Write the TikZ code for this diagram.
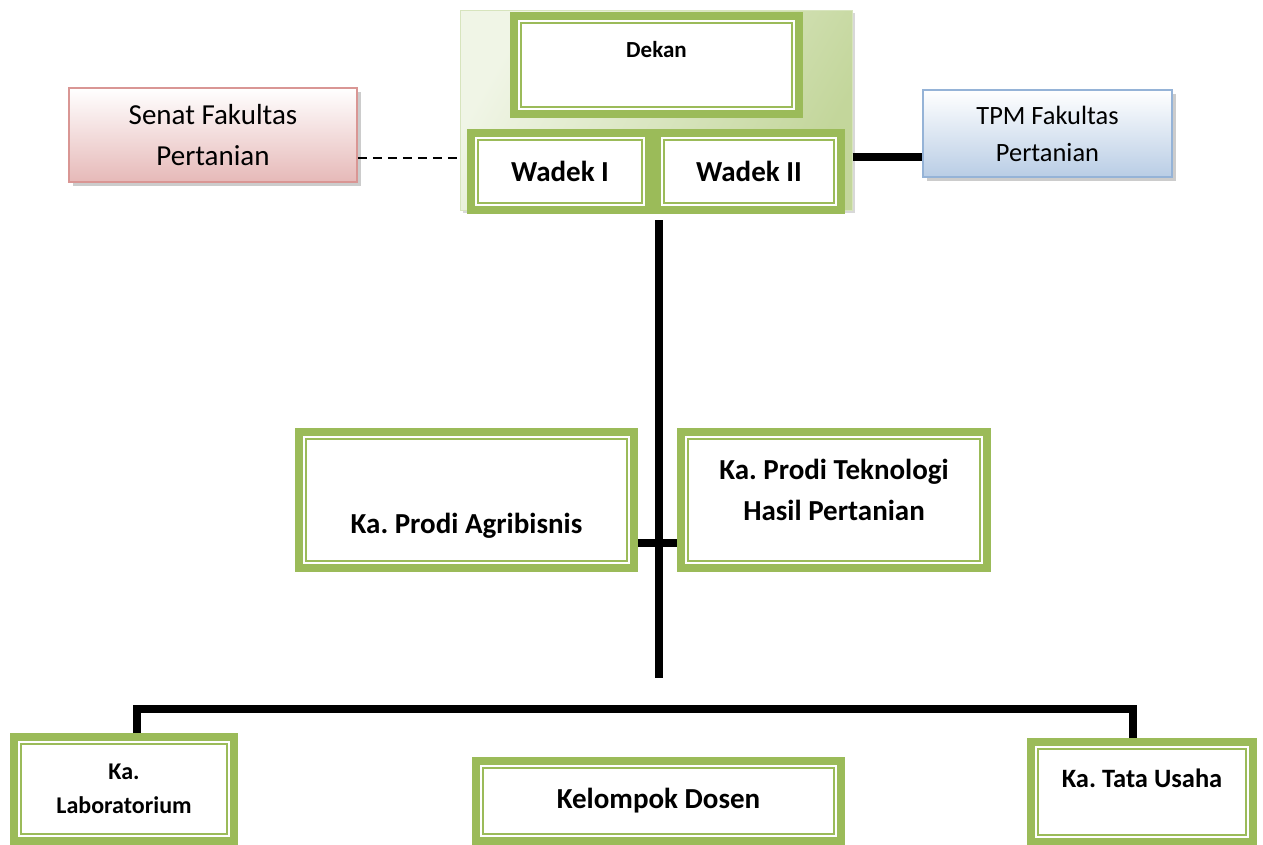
\documentclass[tikz,border=0pt]{standalone}
\usepackage{fontspec}
\setmainfont{Carlito}
\usepackage{xcolor}
\usetikzlibrary{positioning,shadows,calc}
\frenchspacing

\definecolor{olive}{HTML}{9BBB59}
\definecolor{olivepale}{HTML}{F0F5E6}
\definecolor{olivemid}{HTML}{C3D69B}
\definecolor{oliveedge}{HTML}{D7E4BD}
\definecolor{senatpink}{HTML}{E6B9B8}
\definecolor{senatedge}{HTML}{D99694}
\definecolor{tpmblue}{HTML}{B9CDE5}
\definecolor{tpmedge}{HTML}{95B3D7}

\begin{document}
\begin{tikzpicture}[x=1pt, y=-1pt,
  unit/.style={rectangle, draw=olive, line width=8pt, fill=white, inner sep=0pt, align=center, font=\bfseries\fontsize{29}{40.6}\selectfont,
    path picture={\draw[olive, line width=1.8pt] ([shift={(7pt,-7pt)}]path picture bounding box.north west) rectangle ([shift={(-7pt,7pt)}]path picture bounding box.south east);}},
  group/.style={rectangle, draw=oliveedge, line width=1pt, left color=olivepale, right color=olivemid, shading angle=60, inner sep=0pt,
    drop shadow={shadow xshift=3pt, shadow yshift=-3pt, fill=black!30}},
  side/.style={rectangle, line width=1.5pt, inner sep=0pt, align=center, top color=white,
    drop shadow={shadow xshift=4pt, shadow yshift=-4pt, fill=black!40}},
  conn/.style={draw, line width=8pt},
  dashline/.style={draw, line width=2.5pt, dash pattern=on 9pt off 6pt}]

  \clip (0,0) rectangle (1263,844);

  % Top: Dekan with Wadek I and II
  \node [group, minimum width=392pt, minimum height=200pt] (grp) at (656,110) {};
  \node [unit, minimum width=285pt, minimum height=98pt, font=\bfseries\fontsize{23}{32}\selectfont] (dekan) at (656.5,65) {Dekan\\\mbox{}};
  \node [unit, minimum width=178pt, minimum height=77pt] (wadek1) at (560,171.5) {Wadek I};
  \node [unit, minimum width=184pt, minimum height=77pt] (wadek2) at (749,171.5) {Wadek II};

  % Senat and TPM on both sides
  \node [side, draw=senatedge, bottom color=senatpink, minimum width=288pt, minimum height=94pt, font=\fontsize{29}{40.6}\selectfont] (senat) at (213,135) {Senat Fakultas\\Pertanian};
  \node [side, draw=tpmedge, bottom color=tpmblue, minimum width=249pt, minimum height=87pt, font=\fontsize{26.4}{37}\selectfont] (tpm) at (1047.5,133.5) {TPM Fakultas\\Pertanian};

  % Row 2: Prodi
  \node [unit, minimum width=335pt, minimum height=136pt] (agri) at (466.5,500) {\mbox{}\\[32pt]Ka. Prodi Agribisnis};
  \node [unit, minimum width=306pt, minimum height=136pt] (tekno) at (834,500) {Ka. Prodi Teknologi\\Hasil Pertanian\\[-20pt]\mbox{}};

  % Row 3: Lab, Dosen, Tata Usaha
  \node [unit, minimum width=220pt, minimum height=104pt, font=\bfseries\fontsize{24}{33.6}\selectfont] (lab) at (124,789) {Ka.\\Laboratorium};
  \node [unit, minimum width=365pt, minimum height=80pt] (dosen) at (658.5,801) {Kelompok Dosen};
  \node [unit, minimum width=222pt, minimum height=100pt, font=\bfseries\fontsize{26.5}{37}\selectfont] (tu) at (1142,792) {Ka. Tata Usaha\\[-10pt]\mbox{}};

  % Connectors
  \coordinate (senatout) at ($(senat.south east)!0.26!(senat.north east)$);
  \coordinate (tpmin) at ($(tpm.south west)!0.24!(tpm.north west)$);
  \coordinate (trunktop) at (658.5,220);
  \coordinate (trunkend) at (658.5,678);
  \coordinate (prodibar) at ($(agri.south east)!0.2!(agri.north east)$);
  \coordinate (bus) at (658.5,709);

  \path [dashline] (senatout) -- (grp.west |- senatout);
  \path [conn] (grp.east |- tpmin) -- (tpmin);
  \path [conn] (trunktop) -- (trunkend);
  \path [conn] (prodibar) -- (tekno.west |- prodibar);
  \path [conn] ([xshift=13pt]lab.north) |- (bus) -| ([xshift=-9pt]tu.north);
\end{tikzpicture}
\end{document}
